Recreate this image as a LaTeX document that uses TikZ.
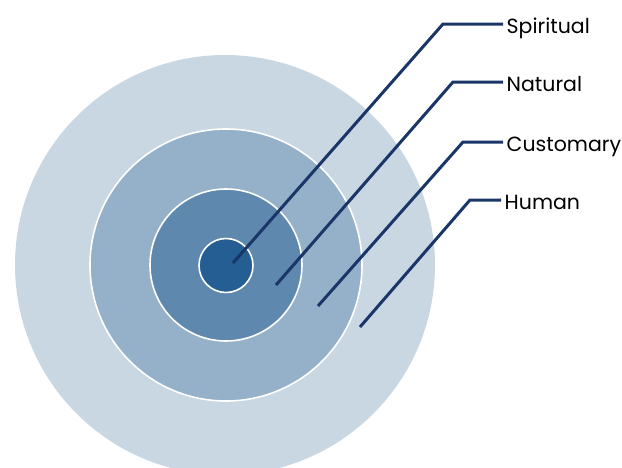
\documentclass[tikz,border=0pt]{standalone}
\usepackage{fontspec}
\setmainfont{Poppins}
\definecolor{ringA}{HTML}{C9D7E3}
\definecolor{ringB}{HTML}{95B1C9}
\definecolor{ringC}{HTML}{5E88AD}
\definecolor{ringD}{HTML}{245E92}
\definecolor{leader}{HTML}{1A3668}
\begin{document}
\begin{tikzpicture}[x=1pt,y=-1pt,
  ring/.style={draw=white,line width=1.6pt},
  lead/.style={draw=leader,line width=3pt},
  lbl/.style={anchor=west,inner xsep=3.5pt,inner ysep=0pt,text height=24pt,text depth=5pt,
    font=\fontsize{20.5}{24}\selectfont,text=black}]
\useasboundingbox (0,0) rectangle (622,467);
\clip (0,0) rectangle (622,467);
\fill[ringA] (225,265) circle[radius=210];
\path[ring,fill=ringB] (226,265) circle[radius=136];
\path[ring,fill=ringC] (226,265) circle[radius=76];
\path[ring,fill=ringD] (226,265.5) circle[radius=27];
\node[lbl] (spiritual) at (503,24) {Spiritual};
\node[lbl] (natural) at (503,82) {Natural};
\node[lbl] (customary) at (503,142) {Customary};
\node[lbl] (human) at (501,200) {Human};
\coordinate (e1) at (443,24);
\coordinate (e2) at (453,82);
\coordinate (e3) at (463,142);
\coordinate (e4) at (470,200);
\coordinate (p1) at (233,263);
\coordinate (p2) at (276,285);
\coordinate (p3) at (318,306);
\coordinate (p4) at (360,327);
\draw[lead] (spiritual.west) -- (e1) -- (p1);
\draw[lead] (natural.west) -- (e2) -- (p2);
\draw[lead] (customary.west) -- (e3) -- (p3);
\draw[lead] (human.west) -- (e4) -- (p4);
\end{tikzpicture}
\end{document}
